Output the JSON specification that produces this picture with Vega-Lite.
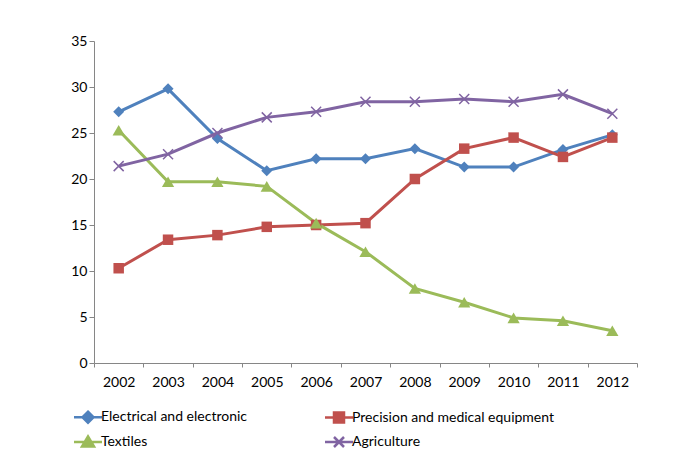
{
  "$schema": "https://vega.github.io/schema/vega-lite/v6.json",
  "width": 543,
  "height": 322,
  "autosize": {"type": "none"},
  "padding": {"left": 94, "top": 41, "right": 46, "bottom": 101},
  "background": "white",
  "config": {
    "view": {"stroke": null},
    "axis": {
      "grid": false,
      "domainColor": "#868686",
      "tickColor": "#868686",
      "labelColor": "#000000",
      "labelFont": "Lato",
      "labelFontSize": 14,
      "title": null
    }
  },
  "data": {
    "values": [
      {"year": "2002", "series": "Electrical and electronic", "value": 27.3},
      {"year": "2003", "series": "Electrical and electronic", "value": 29.8},
      {"year": "2004", "series": "Electrical and electronic", "value": 24.4},
      {"year": "2005", "series": "Electrical and electronic", "value": 20.9},
      {"year": "2006", "series": "Electrical and electronic", "value": 22.2},
      {"year": "2007", "series": "Electrical and electronic", "value": 22.2},
      {"year": "2008", "series": "Electrical and electronic", "value": 23.3},
      {"year": "2009", "series": "Electrical and electronic", "value": 21.3},
      {"year": "2010", "series": "Electrical and electronic", "value": 21.3},
      {"year": "2011", "series": "Electrical and electronic", "value": 23.2},
      {"year": "2012", "series": "Electrical and electronic", "value": 24.8},
      {"year": "2002", "series": "Precision and medical equipment", "value": 10.3},
      {"year": "2003", "series": "Precision and medical equipment", "value": 13.4},
      {"year": "2004", "series": "Precision and medical equipment", "value": 13.9},
      {"year": "2005", "series": "Precision and medical equipment", "value": 14.8},
      {"year": "2006", "series": "Precision and medical equipment", "value": 15.0},
      {"year": "2007", "series": "Precision and medical equipment", "value": 15.2},
      {"year": "2008", "series": "Precision and medical equipment", "value": 20.0},
      {"year": "2009", "series": "Precision and medical equipment", "value": 23.3},
      {"year": "2010", "series": "Precision and medical equipment", "value": 24.5},
      {"year": "2011", "series": "Precision and medical equipment", "value": 22.4},
      {"year": "2012", "series": "Precision and medical equipment", "value": 24.5},
      {"year": "2002", "series": "Textiles", "value": 25.3},
      {"year": "2003", "series": "Textiles", "value": 19.7},
      {"year": "2004", "series": "Textiles", "value": 19.7},
      {"year": "2005", "series": "Textiles", "value": 19.2},
      {"year": "2006", "series": "Textiles", "value": 15.2},
      {"year": "2007", "series": "Textiles", "value": 12.1},
      {"year": "2008", "series": "Textiles", "value": 8.1},
      {"year": "2009", "series": "Textiles", "value": 6.6},
      {"year": "2010", "series": "Textiles", "value": 4.9},
      {"year": "2011", "series": "Textiles", "value": 4.6},
      {"year": "2012", "series": "Textiles", "value": 3.5},
      {"year": "2002", "series": "Agriculture", "value": 21.4},
      {"year": "2003", "series": "Agriculture", "value": 22.7},
      {"year": "2004", "series": "Agriculture", "value": 25.0},
      {"year": "2005", "series": "Agriculture", "value": 26.7},
      {"year": "2006", "series": "Agriculture", "value": 27.3},
      {"year": "2007", "series": "Agriculture", "value": 28.4},
      {"year": "2008", "series": "Agriculture", "value": 28.4},
      {"year": "2009", "series": "Agriculture", "value": 28.7},
      {"year": "2010", "series": "Agriculture", "value": 28.4},
      {"year": "2011", "series": "Agriculture", "value": 29.2},
      {"year": "2012", "series": "Agriculture", "value": 27.1}
    ]
  },
  "encoding": {
    "x": {
      "field": "year",
      "type": "ordinal",
      "scale": {"type": "band", "paddingInner": 0, "paddingOuter": 0},
      "axis": {"labelAngle": 0, "tickBand": "extent", "tickSize": 4, "labelPadding": 8}
    },
    "y": {
      "field": "value",
      "type": "quantitative",
      "scale": {"domain": [0, 35], "nice": false},
      "axis": {"values": [0, 5, 10, 15, 20, 25, 30, 35], "tickSize": 5, "labelPadding": 2}
    },
    "color": {
      "field": "series",
      "type": "nominal",
      "scale": {
        "domain": ["Electrical and electronic", "Precision and medical equipment", "Textiles", "Agriculture"],
        "range": ["#4F81BD", "#C0504D", "#9BBB59", "#8064A2"]
      },
      "legend": {
        "title": null,
        "orient": "none",
        "legendX": -13,
        "legendY": 369,
        "direction": "horizontal",
        "columns": 2,
        "columnPadding": 73,
        "rowPadding": 3,
        "symbolSize": 100,
        "symbolStrokeWidth": 2.5,
        "labelOffset": 6,
        "labelFont": "Lato",
        "labelFontSize": 14,
        "labelColor": "#000000",
        "labelLimit": 400,
        "encode": {
          "symbols": {
            "update": {
              "shape": {"signal": "datum.value === 'Electrical and electronic' ? 'M-2.8,0L2.8,0M0,-1.1L1.1,0L0,1.1L-1.1,0Z' : datum.value === 'Precision and medical equipment' ? 'M-2.8,0L2.8,0M-1,-1L1,-1L1,1L-1,1Z' : datum.value === 'Textiles' ? 'M-2.8,0L2.8,0M0,-1.1L1.2,0.9L-1.2,0.9Z' : 'M-2.8,0L2.8,0M-1,-1L1,1M-1,1L1,-1'"},
              "fill": {"scale": "color", "field": "value"},
              "stroke": {"scale": "color", "field": "value"},
              "strokeWidth": {"value": 2.5}
            }
          }
        }
      }
    }
  },
  "layer": [
    {
      "mark": {"type": "line", "strokeWidth": 3}
    },
    {
      "transform": [{"filter": "datum.series === 'Electrical and electronic'"}],
      "mark": {"type": "point", "shape": "diamond", "size": 121, "filled": true, "opacity": 1}
    },
    {
      "transform": [{"filter": "datum.series === 'Precision and medical equipment'"}],
      "mark": {"type": "point", "shape": "square", "size": 110, "filled": true, "opacity": 1}
    },
    {
      "transform": [{"filter": "datum.series === 'Textiles'"}],
      "mark": {"type": "point", "shape": "triangle-up", "size": 150, "filled": true, "opacity": 1}
    },
    {
      "transform": [{"filter": "datum.series === 'Agriculture'"}],
      "mark": {"type": "point", "shape": "M-1,-1L1,1M-1,1L1,-1", "size": 100, "filled": false, "opacity": 1, "strokeWidth": 1.5}
    }
  ]
}
